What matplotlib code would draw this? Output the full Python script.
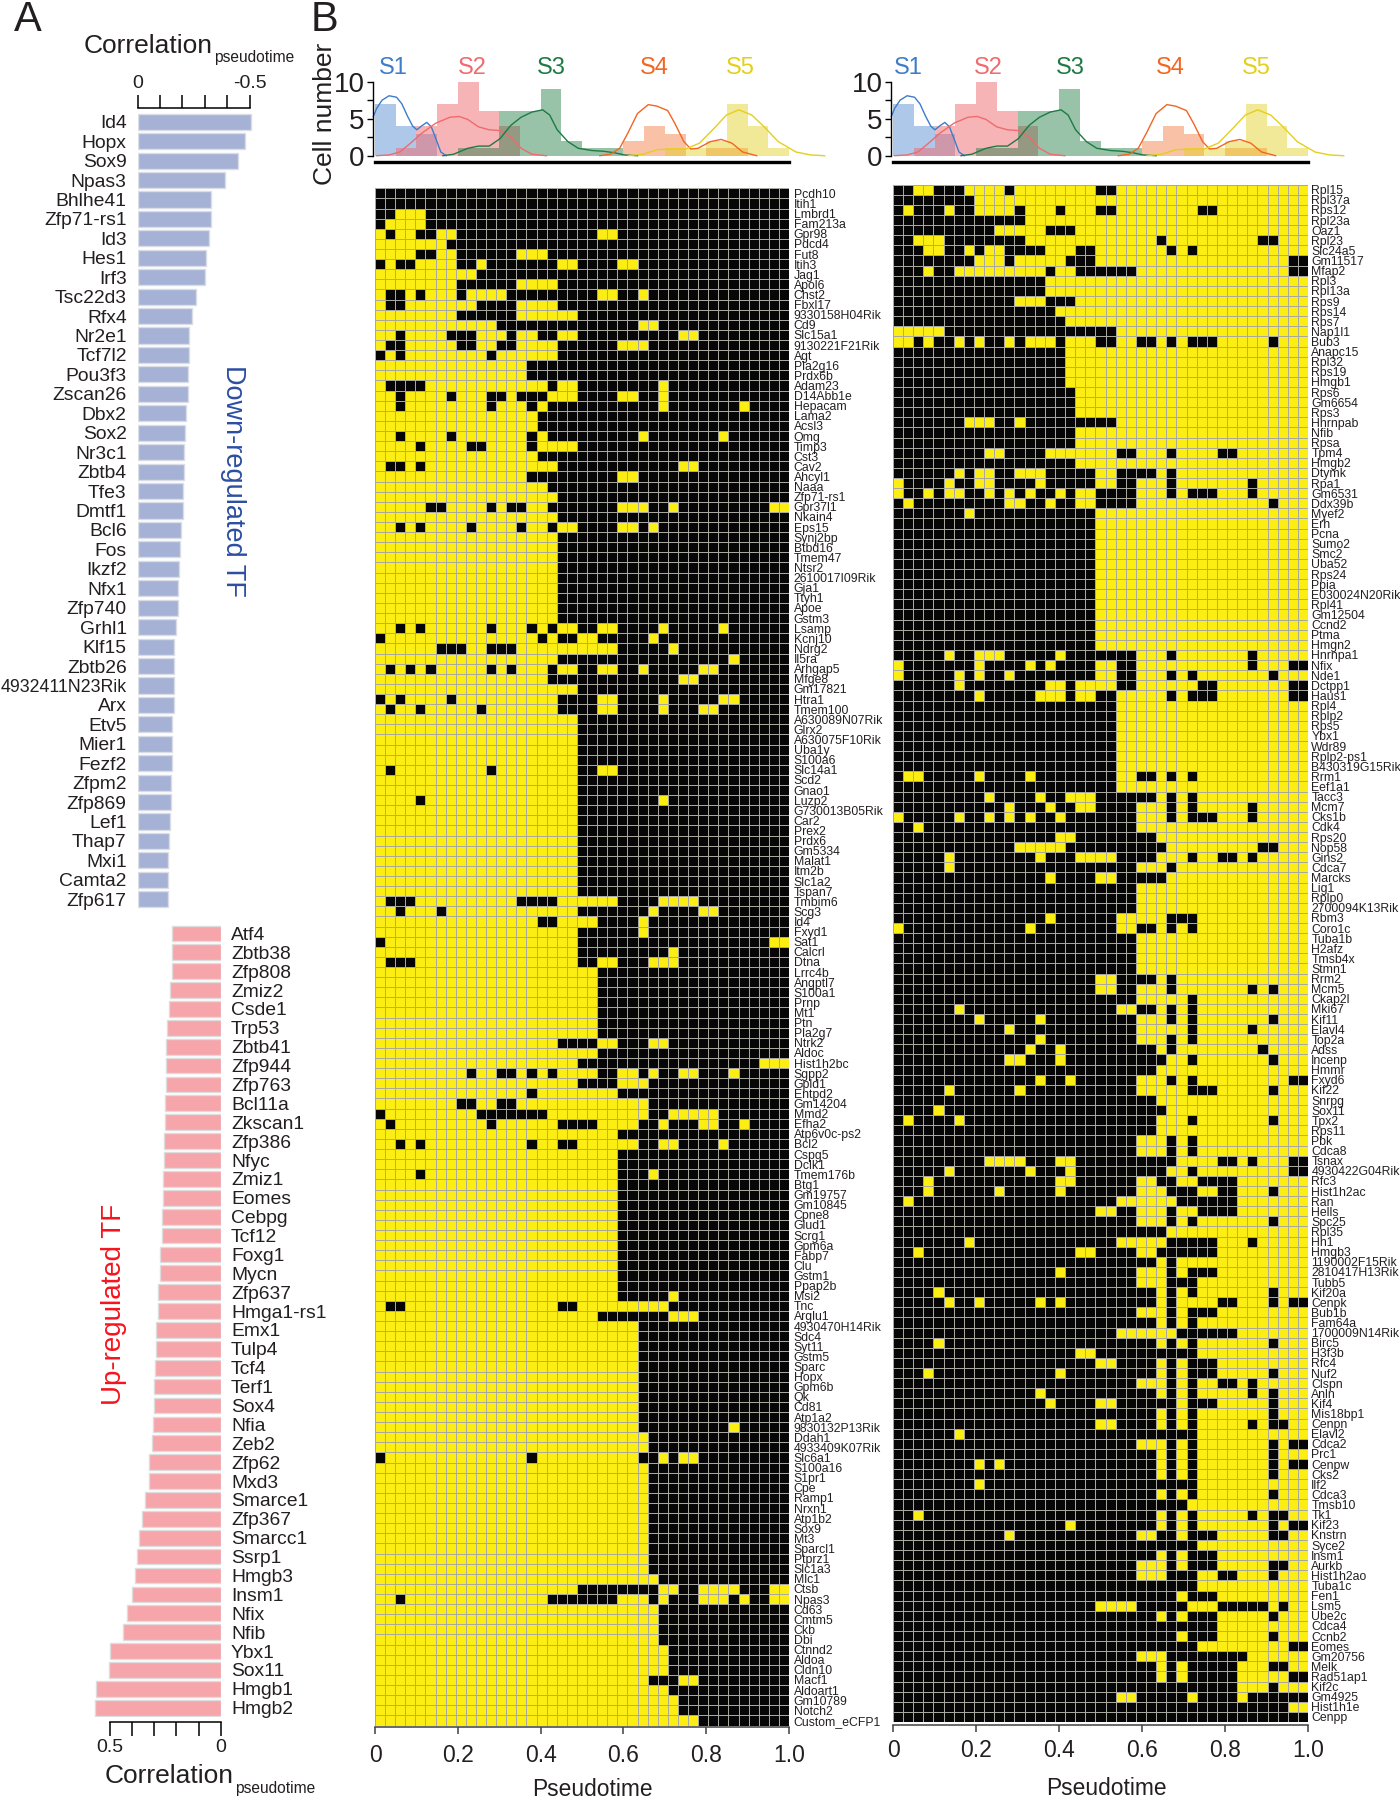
import matplotlib

matplotlib.use("Agg")
import numpy as np
from matplotlib import pyplot as plt
from matplotlib.colors import ListedColormap

plt.rcParams["font.family"] = ["Liberation Sans", "DejaVu Sans"]

W, H = 1400, 1800
INK = "#231f20"

# panel A
down_tf = ["Id4", "Hopx", "Sox9", "Npas3", "Bhlhe41", "Zfp71-rs1", "Id3", "Hes1", "Irf3", "Tsc22d3", "Rfx4",
           "Nr2e1", "Tcf7l2", "Pou3f3", "Zscan26", "Dbx2", "Sox2", "Nr3c1", "Zbtb4", "Tfe3", "Dmtf1", "Bcl6",
           "Fos", "Ikzf2", "Nfx1", "Zfp740", "Grhl1", "Klf15", "Zbtb26", "4932411N23Rik", "Arx", "Etv5",
           "Mier1", "Fezf2", "Zfpm2", "Zfp869", "Lef1", "Thap7", "Mxi1", "Camta2", "Zfp617"]
down_corr = [.506, .479, .449, .390, .329, .327, .317, .308, .302, .260, .243,
             .229, .229, .226, .225, .216, .213, .207, .207, .205, .204, .195,
             .188, .185, .183, .180, .170, .165, .165, .162, .161, .155,
             .153, .153, .150, .149, .143, .141, .138, .134, .134]
up_tf = ["Atf4", "Zbtb38", "Zfp808", "Zmiz2", "Csde1", "Trp53", "Zbtb41", "Zfp944", "Zfp763", "Bcl11a",
         "Zkscan1", "Zfp386", "Nfyc", "Zmiz1", "Eomes", "Cebpg", "Tcf12", "Foxg1", "Mycn", "Zfp637",
         "Hmga1-rs1", "Emx1", "Tulp4", "Tcf4", "Terf1", "Sox4", "Nfia", "Zeb2", "Zfp62", "Mxd3", "Smarce1",
         "Zfp367", "Smarcc1", "Ssrp1", "Hmgb3", "Insm1", "Nfix", "Nfib", "Ybx1", "Sox11", "Hmgb1", "Hmgb2"]
up_corr = [.219, .221, .221, .228, .233, .242, .245, .245, .246, .251,
           .252, .254, .254, .258, .261, .264, .266, .273, .275, .282,
           .282, .291, .293, .294, .300, .302, .305, .309, .321, .324, .339,
           .354, .366, .378, .384, .399, .420, .440, .500, .503, .562, .565]

# panel B histograms, counts per 0.05 pseudotime bin
s1_counts = [7, 4, 3, 0, 0, 0, 0, 0, 0, 0, 0, 0, 0, 0, 0, 0, 0, 0, 0, 0]
s2_counts = [0, 1, 4, 7, 10, 6, 4, 0, 0, 0, 0, 0, 0, 0, 0, 0, 0, 0, 0, 0]
s3_counts = [0, 0, 0, 0, 1, 1, 6, 6, 9, 2, 1, 1, 0, 0, 0, 0, 0, 0, 0, 0]
s4_counts = [0, 0, 0, 0, 0, 0, 0, 0, 0, 0, 0, 0, 2, 4, 3, 0, 1, 1, 0, 0]
s5_counts = [0, 0, 0, 0, 0, 0, 0, 0, 0, 0, 0, 0, 0, 0, 1, 1, 2, 7, 4, 1]

# density curves
s1_t = [-.004, .004, .017, .034, .052, .065, .078, .091, .101, .112, .125, .136, .147, .159, .172]
s1_v = [5.3, 6.4, 7.5, 8.1, 7.9, 7.0, 5.4, 4.0, 3.5, 4.0, 4.5, 3.9, 2.3, .5, 0]
s2_t = [.004, .034, .060, .086, .112, .147, .181, .203, .224, .250, .276, .302, .328, .353, .379, .414]
s2_v = [0, .1, .5, 1.7, 3.0, 4.4, 5.2, 5.3, 4.9, 3.9, 3.5, 3.4, 2.5, 1.0, .2, 0]
s3_t = [.164, .190, .224, .250, .276, .302, .328, .353, .379, .405, .422, .440, .466, .491, .524, .552,
        .578, .603, .634]
s3_v = [0, .2, 1.0, 1.3, 1.3, 2.3, 4.1, 5.2, 5.9, 6.2, 5.5, 3.5, 1.9, 1.0, .7, .6, .4, .1, 0]
s4_t = [.543, .569, .591, .612, .634, .660, .681, .707, .724, .746, .763, .780, .810, .836, .862, .888, .922]
s4_v = [0, .2, 1.0, 3.2, 5.7, 6.9, 6.7, 6.1, 4.4, 1.9, .9, 1.0, 1.9, 2.2, 1.7, .5, 0]
s5_t = [.612, .647, .681, .716, .750, .784, .819, .849, .879, .910, .940, .974, 1.017, 1.052, 1.086]
s5_v = [0, .2, .8, .9, .9, 1.7, 3.7, 5.5, 6.2, 5.5, 3.9, 1.9, .5, .1, 0]

left_genes = ["Pcdh10", "Itih1", "Lmbrd1", "Fam213a", "Gpr98", "Pdcd4", "Fut8", "Itih3", "Jag1", "Apol6", "Chst2",
              "Fbxl17", "9330158H04Rik", "Cd9", "Slc15a1", "9130221F21Rik", "Agt", "Pla2g16", "Prdx6b", "Adam23",
              "D14Abb1e", "Hepacam", "Lama2", "Acsl3", "Omg", "Timp3", "Cst3", "Cav2", "Ahcyl1", "Naaa", "Zfp71-rs1",
              "Gpr37l1", "Nkain4", "Eps15", "Synj2bp", "Btbd16", "Tmem47", "Ntsr2", "2610017I09Rik", "Gja1", "Ttyh1",
              "Apoe", "Gstm3", "Lsamp", "Kcnj10", "Ndrg2", "Il5ra", "Arhgap5", "Mfge8", "Gm17821", "Htra1", "Tmem100",
              "A630089N07Rik", "Glrx2", "A630075F10Rik", "Uba1y", "S100a6", "Slc14a1", "Scd2", "Gnao1", "Luzp2",
              "G730013B05Rik", "Car2", "Prex2", "Prdx6", "Gm5334", "Malat1", "Itm2b", "Slc1a2", "Tspan7", "Tmbim6",
              "Scg3", "Id4", "Fxyd1", "Sat1", "Calcrl", "Dtna", "Lrrc4b", "Angptl7", "S100a1", "Prnp", "Mt1", "Ptn",
              "Pla2g7", "Ntrk2", "Aldoc", "Hist1h2bc", "Sgpp2", "Gpld1", "Entpd2", "Gm14204", "Mmd2", "Efha2",
              "Atp6v0c-ps2", "Bcl2", "Cspg5", "Dclk1", "Tmem176b", "Btg1", "Gm19757", "Gm10845", "Cpne8", "Glud1",
              "Scrg1", "Gpm6a", "Fabp7", "Clu", "Gstm1", "Ppap2b", "Msi2", "Tnc", "Arglu1", "4930470H14Rik", "Sdc4",
              "Syt11", "Gstm5", "Sparc", "Hopx", "Gpm6b", "Qk", "Cd81", "Atp1a2", "9830132P13Rik", "Ddah1",
              "4933409K07Rik", "Slc6a1", "S100a16", "S1pr1", "Cpe", "Ramp1", "Nrxn1", "Atp1b2", "Sox9", "Mt3",
              "Sparcl1", "Ptprz1", "Slc1a3", "Mlc1", "Ctsb", "Npas3", "Cd63", "Cmtm5", "Ckb", "Dbi", "Ctnnd2", "Aldoa",
              "Cldn10", "Macf1", "Aldoart1", "Gm10789", "Notch2", "Custom_eCFP1"]

right_genes = ["Rpl15", "Rpl37a", "Rps12", "Rpl23a", "Oaz1", "Rpl23", "Slc24a5", "Gm11517", "Mfap2", "Rpl3", "Rpl13a",
               "Rps9", "Rps14", "Rps7", "Nap1l1", "Bub3", "Anapc15", "Rpl32", "Rps19", "Hmgb1", "Rps6", "Gm6654", "Rps3",
               "Hnrnpab", "Nfib", "Rpsa", "Tpm4", "Hmgb2", "Dtymk", "Rpa1", "Gm6531", "Ddx39b", "Myef2", "Erh", "Pcna",
               "Sumo2", "Smc2", "Uba52", "Rps24", "Ppia", "E030024N20Rik", "Rpl41", "Gm12504", "Ccnd2", "Ptma", "Hmgn2",
               "Hnrnpa1", "Nfix", "Nde1", "Dctpp1", "Haus1", "Rpl4", "Rplp2", "Rps5", "Ybx1", "Wdr89", "Rplp2-ps1",
               "B430319G15Rik", "Rrm1", "Eef1a1", "Tacc3", "Mcm7", "Cks1b", "Cdk4", "Rps20", "Nop58", "Gins2", "Cdca7",
               "Marcks", "Lig1", "Rplp0", "2700094K13Rik", "Rbm3", "Coro1c", "Tuba1b", "H2afz", "Tmsb4x", "Stmn1", "Rrm2",
               "Mcm5", "Ckap2l", "Mki67", "Kif11", "Elavl4", "Top2a", "Adss", "Incenp", "Hmmr", "Fxyd6", "Kif22", "Snrpg",
               "Sox11", "Tpx2", "Rps11", "Pbk", "Cdca8", "Tsnax", "4930422G04Rik", "Rfc3", "Hist1h2ac", "Ran", "Hells",
               "Spc25", "Rpl35", "Hn1", "Hmgb3", "1190002F15Rik", "2810417H13Rik", "Tubb5", "Kif20a", "Cenpk", "Bub1b",
               "Fam64a", "1700009N14Rik", "Birc5", "H3f3b", "Rfc4", "Nuf2", "Clspn", "Anln", "Kif4", "Mis18bp1", "Cenpn",
               "Elavl2", "Cdca2", "Prc1", "Cenpw", "Cks2", "Ilf2", "Cdca3", "Tmsb10", "Tk1", "Kif23", "Knstrn", "Syce2",
               "Insm1", "Aurkb", "Hist1h2ao", "Tuba1c", "Fen1", "Lsm5", "Ube2c", "Cdca4", "Ccnb2", "Eomes", "Gm20756",
               "Melk", "Rad51ap1", "Kif2c", "Gm4925", "Hist1h1e", "Cenpp"]

# left heatmap: number of leading yellow cells per row, then cells that differ from that
left_base = [0, 0, 5, 5, 8, 7, 8, 8, 10, 8,
             8, 10, 8, 12, 13, 8, 18, 15, 15, 17,
             14, 15, 16, 16, 15, 15, 16, 18, 15, 17,
             18, 17, 18, 20, 18, 18, 18, 18, 18, 18,
             18, 18, 18, 20, 22, 24, 18, 20, 17, 20,
             18, 18, 20, 20, 20, 20, 20, 20, 20, 20,
             20, 20, 20, 20, 20, 20, 20, 20, 20, 20,
             24, 20, 22, 20, 20, 20, 20, 22, 22, 22,
             22, 22, 22, 22, 24, 22, 20, 22, 20, 24,
             27, 27, 26, 24, 26, 24, 24, 24, 24, 24,
             24, 24, 24, 24, 24, 24, 24, 24, 24, 24,
             29, 22, 26, 26, 26, 26, 26, 26, 26, 26,
             26, 26, 26, 27, 27, 26, 27, 27, 27, 27,
             27, 27, 27, 27, 27, 27, 27, 28, 20, 20,
             28, 28, 28, 28, 29, 29, 29, 27, 29, 30,
             30, 32]
left_flips = {
    2: [0, 1], 3: [0], 4: [1, 4, 5, 22, 23], 6: [4, 5, 14, 15, 16], 7: [0, 2, 3, 10, 18, 19, 24, 25],
    9: [14, 15, 16, 17], 10: [1, 2, 4, 9, 10, 11, 12, 22, 23, 26], 11: [1, 2, 14, 15, 16, 17],
    12: [14, 15, 16, 17, 18, 19], 13: [26, 27], 14: [2, 7, 8, 9, 14, 15, 18, 19, 30, 31],
    15: [1, 2, 10, 11, 14, 15, 16, 17, 24, 25, 26], 16: [0, 2, 11], 19: [1, 2, 3, 4, 18, 19, 28],
    20: [2, 7, 11, 12, 17, 18, 19, 24, 25, 28], 21: [2, 11, 16, 28, 36], 24: [2, 7, 16, 26, 34],
    25: [4, 9, 10, 16, 17, 18, 19], 27: [1, 2, 4, 30, 31], 28: [24, 25],
    31: [5, 6, 11, 13, 14, 24, 25, 26, 29, 39, 40], 33: [2, 4, 9, 14, 17, 24, 25, 27],
    43: [2, 4, 11, 15, 17, 22, 23, 28, 34], 44: [0, 16, 18, 19, 27], 45: [6, 7, 8, 11, 12, 13, 29], 46: [35],
    47: [1, 3, 5, 11, 13, 17, 22, 23, 26, 32, 33], 48: [30, 31], 50: [0, 2, 7, 22, 23, 28, 34, 35],
    51: [1, 4, 10, 22, 23, 28, 32, 33], 57: [1, 11, 22, 23], 60: [4, 28],
    70: [1, 2, 3, 14, 15, 16, 17, 28, 29, 30, 31], 71: [2, 6, 27, 32, 33], 72: [16, 17, 26], 73: [26],
    74: [0, 39, 40], 75: [29], 76: [1, 2, 3, 22, 23, 27, 28, 29], 84: [18, 19, 20, 21, 27, 28], 86: [38, 39, 40],
    87: [9, 12, 13, 15, 17, 24, 25, 27, 30, 31, 35], 88: [24, 25, 26], 89: [15], 90: [8, 9, 12, 13],
    91: [0, 10, 11, 12, 13, 14, 15, 16, 29, 30, 31, 32, 33], 92: [1, 11, 18, 19, 20, 21, 28, 32, 33, 36],
    94: [2, 4, 15, 18, 19, 28, 29, 34], 97: [4, 27], 109: [29], 110: [1, 2, 18, 19], 111: [29, 30, 31], 122: [35],
    125: [0, 15, 28, 30, 31], 138: [28, 29, 32, 33, 34, 35, 39, 40],
    139: [2, 17, 18, 19, 24, 25, 26, 28, 32, 33, 34, 36, 39, 40], 147: [30, 31],
}

# right heatmap: number of leading black cells per row, then cells that differ from that
right_base = [7, 8, 8, 13, 10, 13, 15, 8, 6, 15,
              15, 12, 16, 17, 22, 17, 17, 17, 17, 17,
              18, 18, 18, 22, 18, 18, 18, 18, 20, 20,
              24, 24, 20, 20, 20, 20, 20, 20, 20, 20,
              20, 20, 20, 20, 20, 20, 24, 24, 24, 24,
              22, 22, 22, 22, 22, 22, 22, 22, 22, 22,
              26, 24, 24, 24, 26, 27, 26, 24, 27, 24,
              24, 24, 22, 22, 24, 24, 24, 24, 26, 24,
              24, 22, 24, 24, 24, 26, 27, 26, 24, 24,
              26, 27, 26, 26, 24, 24, 28, 27, 24, 24,
              22, 24, 24, 27, 22, 24, 26, 24, 24, 26,
              26, 24, 26, 22, 30, 30, 32, 32, 30, 30,
              32, 30, 30, 30, 30, 30, 30, 30, 30, 30,
              29, 30, 30, 32, 30, 32, 32, 30, 30, 32,
              29, 32, 32, 32, 30, 35, 34, 34, 34, 41,
              39, 41]
right_flips = {
    0: [2, 3, 11, 20, 21], 2: [1, 5, 12, 16, 20, 21, 30, 31], 4: [15, 16, 17], 5: [2, 3, 4, 26, 36, 37],
    6: [3, 4, 7, 9, 10, 18, 19, 27, 29], 7: [11, 17, 18, 19, 39, 40], 8: [3, 15, 18, 19, 20, 21, 22, 23, 39, 40],
    11: [15, 16, 17], 14: [0, 1, 2, 3, 4], 15: [0, 1, 3, 6, 8, 11, 13, 14, 15, 20, 21, 24, 25, 27, 29, 30, 31, 37],
    23: [7, 8, 9, 12], 26: [9, 10, 15, 16, 17, 22, 23, 27, 32, 33], 28: [6, 8, 9, 12, 13, 14, 22, 23, 24, 25, 27],
    29: [0, 5, 8, 9, 14, 22, 23, 27, 35], 30: [0, 3, 5, 6, 9, 11, 13, 16, 18, 19, 27, 29, 30, 31, 35],
    31: [1, 11, 12, 15, 18, 19, 37], 32: [7], 46: [5, 8, 9, 10, 16, 27, 35], 47: [0, 8, 13, 15, 20, 21, 35, 39, 40],
    48: [0, 6, 8, 11, 20, 21, 27, 29, 37], 49: [6, 15, 16, 18, 19, 20, 21, 30, 31, 39, 40],
    50: [8, 14, 15, 16, 18, 19, 27, 29, 30, 31, 39, 40], 58: [1, 2, 8, 13, 24, 25, 27, 29],
    60: [9, 14, 17, 18, 19, 27, 29], 61: [11, 15, 18, 19, 27, 29, 35], 62: [0, 6, 9, 11, 13, 16, 27, 29, 30, 31, 35],
    63: [2], 64: [16, 17], 65: [12, 13, 14, 15, 16, 36, 37], 66: [5, 14, 18, 19, 20, 21, 29, 32, 33, 35],
    67: [5, 27], 68: [15, 20, 21], 72: [15, 27, 28, 29], 73: [0, 13, 24, 25, 27, 29], 78: [20, 21, 27],
    79: [20, 21, 27, 35, 37], 80: [29], 81: [6, 24, 25, 27, 29], 82: [8, 14, 27, 29, 37], 83: [11, 29, 35],
    84: [14, 27, 29], 85: [13, 16, 27, 36], 86: [11, 12, 16, 29, 37], 88: [14, 17, 27, 29, 39, 40],
    89: [5, 12, 29, 30, 31, 37], 91: [4], 92: [1, 6, 29, 37], 94: [27, 29], 95: [27, 29],
    96: [9, 10, 11, 12, 16, 17, 32, 33, 35, 39, 40], 97: [5, 13, 17, 29, 39, 40],
    98: [3, 16, 17, 26, 27, 30, 31, 32, 33], 99: [3, 10, 16, 27, 28, 29, 32, 33, 37], 100: [1, 28, 29, 30, 31, 32, 33],
    101: [20, 21, 27, 30, 31, 32, 33], 102: [27, 29, 37], 104: [7, 27, 28, 29, 30, 31, 35],
    105: [2, 18, 19, 26, 27, 28, 29, 30, 31], 106: [27], 107: [16, 27, 29, 30, 31], 108: [27, 28, 29],
    109: [4, 27, 29, 37], 110: [5, 8, 14, 16, 27, 32, 33, 37, 39, 40], 111: [27, 29, 30, 31], 112: [27, 29],
    113: [28, 29, 30, 31, 32, 33], 114: [4, 26, 28, 37], 115: [18, 19], 116: [20, 21, 26, 28],
    117: [3, 16, 26, 28, 37], 118: [24, 25, 26, 28, 32, 33, 35], 119: [14, 26, 28, 35, 37],
    120: [15, 20, 21, 28, 37], 121: [26, 28, 37], 122: [20, 21, 26, 28, 35, 37, 38], 123: [6],
    124: [24, 25, 26, 28, 37, 39, 40], 125: [26, 28, 37], 126: [8, 10, 26, 28, 37, 39, 40], 127: [26, 28, 37],
    128: [8], 129: [26, 28, 37], 131: [2, 26, 28, 35, 37, 38], 132: [17, 26, 28, 37, 39, 40],
    133: [11, 24, 25, 28, 37, 38], 135: [26, 28], 136: [24, 25, 26, 28, 37, 38], 137: [24, 25, 26, 32, 33, 37],
    139: [28], 140: [20, 21, 22, 23, 32, 33, 34, 35, 36, 38], 141: [26, 28, 37], 143: [28, 37], 144: [39, 40],
    145: [24, 25, 26], 146: [26, 28, 37, 38], 147: [26, 28, 39, 40], 148: [37], 149: [22, 23, 29, 34],
}

state_names = ["S1", "S2", "S3", "S4", "S5"]
state_colors = ["#3d7cc9", "#f06a6e", "#1e7a42", "#f26522", "#e4cf1c"]
state_alpha = [.42, .5, .45, .4, .45]
pseudotime_ticks = [0, .2, .4, .6, .8, 1.0]
pseudotime_labels = ["0", "0.2", "0.4", "0.6", "0.8", "1.0"]


def px_axes(fig, x0, y0, x1, y1):
    # axes box given in picture pixels, y going down
    return fig.add_axes([x0 / W, 1 - y1 / H, (x1 - x0) / W, (y1 - y0) / H])


def px_text(fig, x, y, s, **kwargs):
    kwargs.setdefault("color", INK)
    return fig.text(x / W, 1 - y / H, s, **kwargs)


def make_matrix(base, flips, first, rest):
    m = np.full((len(base), 41), rest)
    for i, n in enumerate(base):
        m[i, :n] = first
        for j in flips.get(i, []):
            m[i, j] = rest if m[i, j] == first else first
    return m


def plot_heatmap(fig, box, matrix, genes, label_pad, axis_offset, tick_pad):
    ax = px_axes(fig, *box)
    cmap = ListedColormap(["#060606", "#fcee12"])
    x = np.linspace(0, 1, 42)
    y = np.arange(len(genes) + 1)
    ax.pcolormesh(x, y, matrix, cmap=cmap, vmin=0, vmax=1, edgecolors="#a8a8a0", linewidth=0.42)
    ax.set_xlim(0, 1)
    ax.set_ylim(len(genes), 0)
    for side in ["top", "left", "right"]:
        ax.spines[side].set_visible(False)
    ax.spines["bottom"].set_position(("outward", axis_offset))
    ax.spines["bottom"].set_linewidth(1.1)
    ax.spines["bottom"].set_color("#404040")
    ax.set_xticks(pseudotime_ticks, pseudotime_labels, fontsize=16.5, color=INK)
    ax.tick_params(axis="x", length=5, width=1.1, color="#404040", pad=tick_pad)
    ax.yaxis.tick_right()
    ax.set_yticks(np.arange(len(genes)) + 0.5, genes, fontsize=8.8, color=INK)
    ax.tick_params(axis="y", length=0, pad=label_pad)
    return ax


def plot_histogram(fig, box, label_xs):
    ax = px_axes(fig, *box)
    bins = np.arange(20) * 0.05 + 0.025
    all_counts = [s1_counts, s2_counts, s3_counts, s4_counts, s5_counts]
    for counts, color, alpha in zip(all_counts, state_colors, state_alpha):
        ax.bar(bins, counts, width=0.05, color=color, alpha=alpha, linewidth=0)
    curves = [(s1_t, s1_v), (s2_t, s2_v), (s3_t, s3_v), (s4_t, s4_v), (s5_t, s5_v)]
    for (t, v), color in zip(curves, state_colors):
        ax.plot(t, v, color=color, lw=1.0, clip_on=False)
    ax.set_xlim(0, 1)
    ax.set_ylim(0, 10)
    ax.patch.set_visible(False)
    for side in ["top", "right"]:
        ax.spines[side].set_visible(False)
    ax.spines["left"].set_position(("outward", 1.5))
    ax.spines["left"].set_linewidth(1.0)
    ax.spines["bottom"].set_position(("outward", 4.8))
    ax.spines["bottom"].set_linewidth(2.4)
    ax.set_xticks([])
    ax.set_yticks([0, 5, 10], ["0", "5", "10"], fontsize=20, color=INK)
    ax.set_yticks([2.5, 7.5], minor=True)
    ax.tick_params(axis="y", which="both", length=4, width=1.0, pad=2)
    for name, color, x in zip(state_names, state_colors, label_xs):
        px_text(fig, x, 68, name, color=color, fontsize=17, ha="center", va="center")
    return ax


def main():
    fig = plt.figure(figsize=(W / 100, H / 100), dpi=100)

    # down-regulated bars
    ax = px_axes(fig, 137.5, 112, 137.5 + 0.55 * 224, 909)
    ax.barh(np.arange(len(down_tf)), down_corr, height=0.83, color="#a5b2d6", edgecolor="#dadde6", linewidth=1.0)
    ax.set_xlim(0, 0.55)
    ax.set_ylim(len(down_tf) - 0.5, -0.5)
    for side in ["bottom", "left", "right"]:
        ax.spines[side].set_visible(False)
    ax.xaxis.tick_top()
    ax.spines["top"].set_position(("outward", 3.1))
    ax.spines["top"].set_bounds(0, 0.5)
    ax.spines["top"].set_linewidth(1.1)
    ax.set_xticks([0, .1, .2, .3, .4, .5], ["0", "", "", "", "", "-0.5"], fontsize=14, color=INK)
    ax.tick_params(axis="x", length=9.6, width=1.1, pad=2)
    ax.set_yticks(np.arange(len(down_tf)), down_tf, fontsize=13.9, color=INK)
    ax.tick_params(axis="y", length=0, pad=7.8)
    ax.get_yticklabels()[down_tf.index("4932411N23Rik")].set_fontsize(12.8)

    # up-regulated bars
    ax = px_axes(fig, 220.7 - 0.6 * 222, 923.9, 220.7, 1717.2)
    ax.barh(np.arange(len(up_tf)), up_corr, height=0.83, color="#f6a5aa", edgecolor="#dddddd", linewidth=1.0)
    ax.set_xlim(0.6, 0)
    ax.set_ylim(len(up_tf) - 0.5, -0.5)
    for side in ["top", "left", "right"]:
        ax.spines[side].set_visible(False)
    ax.spines["bottom"].set_position(("outward", 3.7))
    ax.spines["bottom"].set_bounds(0, 0.5)
    ax.spines["bottom"].set_linewidth(1.1)
    ax.set_xticks([0, .1, .2, .3, .4, .5], ["0", "", "", "", "", "0.5"], fontsize=14, color=INK)
    ax.tick_params(axis="x", length=9.8, width=1.1, pad=2)
    ax.yaxis.tick_right()
    ax.set_yticks(np.arange(len(up_tf)), up_tf, fontsize=13.9, color=INK)
    ax.tick_params(axis="y", length=0, pad=7.4)

    # heatmaps
    left_m = make_matrix(left_base, left_flips, 1, 0)
    right_m = make_matrix(right_base, right_flips, 0, 1)
    plot_heatmap(fig, (375, 188.3, 789, 1725.5), left_m, left_genes, 3.4, 1.0, 7)
    plot_heatmap(fig, (893, 184.7, 1308, 1722), right_m, right_genes, 2.4, 2.0, 5)

    plot_histogram(fig, (375, 81.7, 789, 155.7), [393, 472, 551, 654, 740])
    plot_histogram(fig, (893, 81.7, 1308, 155.7), [908, 988, 1070, 1170, 1256])

    # free text
    px_text(fig, 14, 30.7, "A", fontsize=30, va="baseline")
    px_text(fig, 311, 30.7, "B", fontsize=30, va="baseline")
    px_text(fig, 84, 52.7, "Correlation", fontsize=19, va="baseline")
    px_text(fig, 214, 62, "pseudotime", fontsize=11.2, va="baseline")
    px_text(fig, 105, 1782.7, "Correlation", fontsize=19, va="baseline")
    px_text(fig, 235, 1792.7, "pseudotime", fontsize=11.2, va="baseline")
    px_text(fig, 325, 114, "Cell number", fontsize=19, rotation=90, ha="center", va="center")
    px_text(fig, 233, 481, "Down-regulated TF", fontsize=19.5, rotation=270, color="#2b4ea2", ha="center", va="center")
    px_text(fig, 114, 1304, "Up-regulated TF", fontsize=20, rotation=90, color="#f5141e", ha="center", va="center")
    px_text(fig, 592, 1796.5, "Pseudotime", fontsize=16.4, ha="center", va="baseline")
    px_text(fig, 1106, 1795, "Pseudotime", fontsize=16.4, ha="center", va="baseline")

    fig.savefig("out.png", dpi=100)


if __name__ == "__main__":
    main()
